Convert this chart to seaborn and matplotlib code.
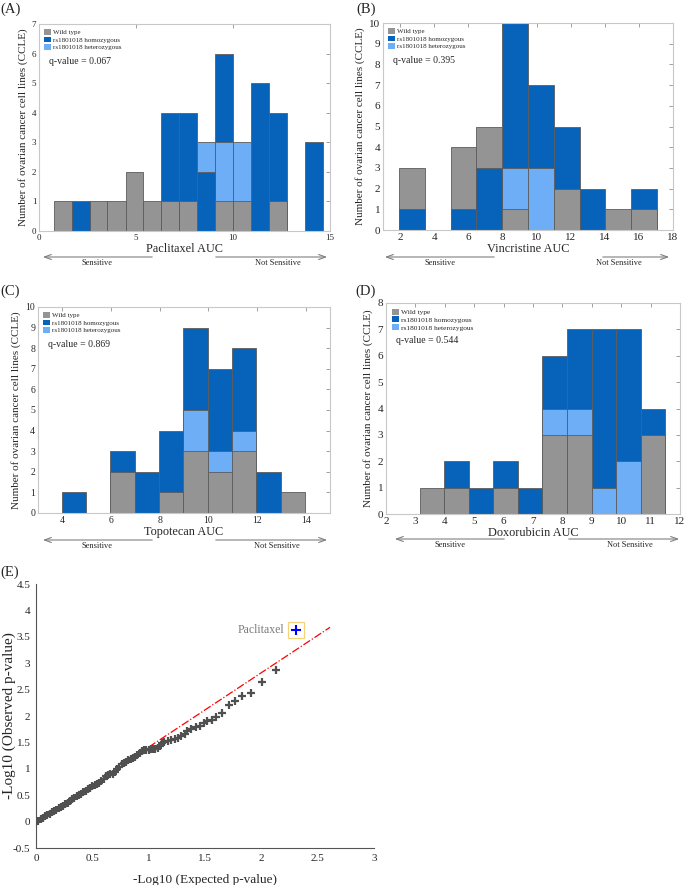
import numpy as np
import pandas as pd
import matplotlib
matplotlib.use('Agg')
import matplotlib.pyplot as plt
from matplotlib.patches import Patch
from matplotlib.ticker import FuncFormatter
import seaborn as sns

# colours of the three genotype groups
C_WILD = '#949494'
C_HOM = '#0762BA'
C_HET = '#6DAEF6'

# (A) Paclitaxel: bin edges + counts per group
pac_edges = [0.76, 1.68, 2.61, 3.53, 4.46, 5.38, 6.31, 7.23, 8.16, 9.08, 10.01, 10.93, 11.86, 12.78, 13.71, 14.63]
pac_wild = [1, 0, 1, 1, 2, 1, 1, 1, 0, 1, 1, 0, 1, 0, 0]
pac_hom = [0, 1, 0, 0, 0, 0, 4, 4, 2, 6, 0, 5, 4, 0, 3]
pac_het = [0, 0, 0, 0, 0, 0, 0, 0, 3, 3, 3, 0, 0, 0, 0]

# (B) Vincristine
vin_edges = [1.94, 3.45, 4.97, 6.48, 7.99, 9.51, 11.02, 12.53, 14.04, 15.56, 17.07]
vin_wild = [3, 0, 4, 5, 1, 0, 2, 0, 1, 1]
vin_hom = [1, 0, 1, 3, 10, 7, 5, 2, 0, 2]
vin_het = [0, 0, 0, 0, 3, 3, 0, 0, 0, 0]

# (C) Topotecan
top_edges = [3.97, 4.97, 5.97, 6.97, 7.97, 8.97, 9.97, 10.97, 11.97, 12.97, 13.97]
top_wild = [0, 0, 2, 0, 1, 3, 2, 3, 0, 1]
top_hom = [1, 0, 3, 2, 4, 9, 7, 8, 2, 0]
top_het = [0, 0, 0, 0, 0, 5, 3, 4, 0, 0]

# (D) Doxorubicin
dox_edges = [3.14, 3.98, 4.81, 5.65, 6.48, 7.32, 8.15, 8.99, 9.82, 10.66, 11.49]
dox_wild = [1, 1, 0, 1, 0, 3, 3, 0, 0, 3]
dox_hom = [0, 2, 1, 2, 1, 6, 7, 7, 7, 4]
dox_het = [0, 0, 0, 0, 0, 4, 4, 1, 2, 0]

q_values = ['0.067', '0.395', '0.869', '0.544']

# (E) QQ plot
qq_expected = [0.00, 0.02, 0.04, 0.06, 0.08, 0.10, 0.12, 0.14, 0.16, 0.18,
               0.20, 0.22, 0.24, 0.26, 0.28, 0.30, 0.32, 0.34, 0.36, 0.38,
               0.40, 0.42, 0.44, 0.46, 0.48, 0.50, 0.52, 0.54, 0.56, 0.58,
               0.60, 0.62, 0.64, 0.66, 0.68, 0.70, 0.72, 0.74, 0.76, 0.78,
               0.80, 0.82, 0.84, 0.86, 0.88, 0.90, 0.92, 0.94, 0.96, 0.98,
               1.00, 1.02, 1.04, 1.06, 1.08, 1.10, 1.12, 1.14, 1.17, 1.20,
               1.23, 1.26, 1.29, 1.32, 1.34, 1.38, 1.42, 1.46, 1.49, 1.52,
               1.56, 1.60, 1.65, 1.71, 1.77, 1.83, 1.91, 2.01, 2.13]
qq_observed = [0.00, 0.02, 0.05, 0.07, 0.10, 0.12, 0.15, 0.18, 0.20, 0.22,
               0.25, 0.27, 0.30, 0.33, 0.36, 0.39, 0.42, 0.45, 0.48, 0.51,
               0.53, 0.56, 0.58, 0.61, 0.64, 0.67, 0.70, 0.72, 0.74, 0.76,
               0.81, 0.86, 0.89, 0.90, 0.91, 0.94, 0.99, 1.04, 1.09, 1.11,
               1.13, 1.17, 1.19, 1.20, 1.23, 1.26, 1.29, 1.33, 1.35, 1.36,
               1.36, 1.37, 1.38, 1.38, 1.40, 1.43, 1.48, 1.51, 1.53, 1.55,
               1.56, 1.59, 1.62, 1.66, 1.71, 1.75, 1.80, 1.82, 1.86, 1.90,
               1.93, 1.99, 2.06, 2.20, 2.28, 2.37, 2.43, 2.65, 2.88]
pac_point = (2.31, 3.63)
ref_x = [1.0, 2.61]
ref_y = [1.41, 3.68]

W, H = 685, 885

sns.set_style('white')
plt.rcParams['font.family'] = ['Liberation Serif', 'DejaVu Serif']
plt.rcParams['axes.unicode_minus'] = False

fig = plt.figure(figsize=(W / 100, H / 100), dpi=100)


def ax_at(l, t, r, b):
    return fig.add_axes([l / W, 1 - b / H, (r - l) / W, (b - t) / H])


def hist_panel(ax, edges, wild, hom, het, xlim, ylim, xticks, xlabel, q, tsize=7, lsize=5):
    e = np.array(edges)
    centers = (e[:-1] + e[1:]) / 2
    for counts, col in [(wild, C_WILD), (het, C_HET), (hom, C_HOM)]:
        df = pd.DataFrame({'auc': centers, 'n': counts})
        n0 = len(ax.patches)
        sns.histplot(data=df, x='auc', weights='n', bins=list(edges), color=col,
                     alpha=1, edgecolor='#5c5c5c', linewidth=0.6, ax=ax)
        for p in ax.patches[n0:]:
            h = p.get_height()
            if h == 0:
                p.set_visible(False)
            # smaller counts drawn in front
            p.set_zorder(1.5 - h * 0.01)
    ax.set_xlim(*xlim)
    ax.set_ylim(*ylim)
    ax.set_xticks(list(xticks))
    ax.set_yticks(range(ylim[0], ylim[1] + 1))
    ax.tick_params(direction='in', length=3, width=0.6, color='#909090',
                   top=True, right=True, labelsize=tsize, pad=2)
    for s in ax.spines.values():
        s.set_color('#c8c8c8')
        s.set_linewidth(0.8)
    ax.set_xlabel(xlabel, fontsize=8.8, labelpad=1)
    ax.set_ylabel('Number of ovarian cancer cell lines (CCLE)', fontsize=8, labelpad=3)
    handles = [Patch(facecolor=C_WILD, edgecolor='none'),
               Patch(facecolor=C_HOM, edgecolor='none'),
               Patch(facecolor=C_HET, edgecolor='none')]
    ax.legend(handles, ['Wild type', 'rs1801018 homozygous', 'rs1801018 heterozygous'],
              loc='upper left', frameon=False, fontsize=lsize, handlelength=1.0,
              handleheight=0.9, handletextpad=0.3, labelspacing=0.15,
              borderaxespad=0.35)
    ax.text(0.035, 0.82, 'q-value = ' + q, transform=ax.transAxes, fontsize=7,
            va='center')


def sens_arrows(x0, x1, x2, x3, y, tx0, tx1):
    ap = dict(arrowstyle='->,head_length=0.5,head_width=0.18', color='#808080', lw=0.8)
    fig.add_artist(plt.Annotation('', xy=(x0, H - y), xytext=(x1, H - y),
                                  xycoords='figure pixels', textcoords='figure pixels',
                                  arrowprops=ap))
    fig.add_artist(plt.Annotation('', xy=(x3, H - y), xytext=(x2, H - y),
                                  xycoords='figure pixels', textcoords='figure pixels',
                                  arrowprops=ap))
    fig.text(tx0 / W, 1 - (y + 6) / H, 'Sensitive', fontsize=6, ha='center', va='center')
    fig.text(tx1 / W, 1 - (y + 6) / H, 'Not Sensitive', fontsize=6, ha='center', va='center')


axA = ax_at(39, 24, 330, 231)
hist_panel(axA, pac_edges, pac_wild, pac_hom, pac_het, (0, 15), (0, 7),
           [0, 5, 10, 15], 'Paclitaxel AUC', q_values[0], tsize=6.5, lsize=5)
axB = ax_at(383, 23, 673, 230)
hist_panel(axB, vin_edges, vin_wild, vin_hom, vin_het, (1, 18), (0, 10),
           range(2, 19, 2), 'Vincristine AUC', q_values[1], tsize=8, lsize=5)
axC = ax_at(38, 307, 330, 513)
hist_panel(axC, top_edges, top_wild, top_hom, top_het, (3, 15), (0, 10),
           range(4, 15, 2), 'Topotecan AUC', q_values[2], tsize=7, lsize=5)
axD = ax_at(386, 303, 680, 514)
hist_panel(axD, dox_edges, dox_wild, dox_hom, dox_het, (2, 12), (0, 8),
           range(2, 13), 'Doxorubicin AUC', q_values[3], tsize=8, lsize=5.3)

sens_arrows(40, 155, 213, 330, 257, 97, 278)
sens_arrows(382, 497, 600, 672, 257, 440, 619)
sens_arrows(40, 155, 213, 330, 540, 97, 277)
sens_arrows(392, 507, 566, 682, 539, 450, 630)

# (E) QQ plot
axE = ax_at(36, 584, 374, 848)
axE.plot(ref_x, ref_y, color='red', lw=0.9, ls='-.', zorder=1)
sns.scatterplot(x=qq_expected, y=qq_observed, marker='+', s=38, color='#505050',
                linewidth=1.6, ax=axE, zorder=3)
axE.plot([pac_point[0]], [pac_point[1]], marker='s', ms=11, mfc='none',
         mec='#F5D37A', mew=0.9, ls='none', zorder=3)
axE.plot([pac_point[0]], [pac_point[1]], marker='+', ms=6.5, mec='blue', mew=1.5,
         ls='none', zorder=4)
axE.text(pac_point[0] - 0.11, pac_point[1], 'Paclitaxel', color='#7a7a7a', fontsize=8.5,
         ha='right', va='center')
axE.set_xlim(0, 3)
axE.set_ylim(-0.5, 4.5)
axE.set_xticks(np.arange(0, 3.01, 0.5))
axE.set_yticks(np.arange(-0.5, 4.51, 0.5))
fmt = FuncFormatter(lambda v, p: f'{v:g}')
axE.xaxis.set_major_formatter(fmt)
axE.yaxis.set_major_formatter(fmt)
axE.tick_params(direction='in', length=3, width=0.7, color='#555555', labelsize=8, pad=4)
for side in ['top', 'right']:
    axE.spines[side].set_visible(False)
for side in ['left', 'bottom']:
    axE.spines[side].set_color('#555555')
    axE.spines[side].set_linewidth(0.8)
axE.set_xlabel('-Log10 (Expected p-value)', fontsize=9.5, labelpad=8)
axE.set_ylabel('-Log10 (Observed p-value)', fontsize=11)
axE.yaxis.set_label_coords(-0.058, 0.5)

for txt, x, y in [('(A)', 0, 9), ('(B)', 356, 9), ('(C)', 0, 291), ('(D)', 355, 291), ('(E)', 0, 572)]:
    fig.text(x / W, 1 - y / H, txt, fontsize=10.5, va='center', ha='left')

fig.savefig('out.png', dpi=100)
